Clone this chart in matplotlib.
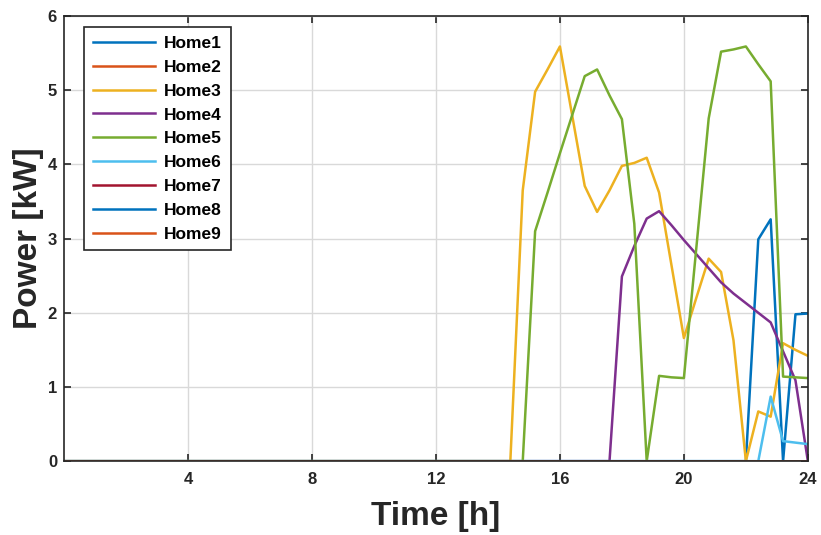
import numpy as np
import matplotlib.pyplot as plt

plt.rcParams['font.family'] = ['Liberation Sans', 'DejaVu Sans']
plt.rcParams['font.weight'] = 'bold'

# time axis, 0.4 h steps
t = np.round(np.arange(0, 61) * 0.4, 2)

labels = ['Home1', 'Home2', 'Home3', 'Home4', 'Home5',
          'Home6', 'Home7', 'Home8', 'Home9']
colors = ['#0072BD', '#D95319', '#EDB120', '#7E2F8E', '#77AC30',
          '#4DBEEE', '#A2142F', '#0072BD', '#D95319']

# values from 14.4 h to 24.0 h (25 samples), zero before
home3_tail = [0, 3.65, 4.98, 5.28, 5.59, 4.65, 3.71, 3.36, 3.65, 3.98,
              4.02, 4.09, 3.62, 2.64, 1.66, 2.2, 2.73, 2.55, 1.63, 0,
              0.67, 0.6, 1.59, 1.5, 1.42]
home4_tail = [0, 0, 0, 0, 0, 0, 0, 0, 0, 2.49,
              2.9, 3.27, 3.37, 3.18, 2.98, 2.79, 2.6, 2.41, 2.26, 2.13,
              2.0, 1.87, 1.48, 1.09, 0]
home5_tail = [0, 0, 3.1, 3.62, 4.15, 4.67, 5.19, 5.28, 4.93, 4.61,
              3.2, 0, 1.15, 1.13, 1.12, 2.87, 4.62, 5.52, 5.55, 5.59,
              5.35, 5.12, 1.14, 1.13, 1.12]
home1_tail = [0, 0, 0, 0, 0, 0, 0, 0, 0, 0,
              0, 0, 0, 0, 0, 0, 0, 0, 0, 0,
              2.99, 3.26, 0, 1.98, 1.99]
home6_tail = [0, 0, 0, 0, 0, 0, 0, 0, 0, 0,
              0, 0, 0, 0, 0, 0, 0, 0, 0, 0,
              0, 0.87, 0.27, 0.25, 0.23]

n_lead = 36  # samples from 0 to 14.0 h


def full(tail):
    return np.concatenate([np.zeros(n_lead), tail])


zeros = np.zeros(len(t))
series = [full(home1_tail), zeros, full(home3_tail), full(home4_tail),
          full(home5_tail), full(home6_tail), zeros, zeros, zeros]

fig = plt.figure(figsize=(8.21, 5.35), dpi=100)
ax = fig.add_axes([0.078, 0.138, 0.906, 0.832])

for y, lab, c in zip(series, labels, colors):
    ax.plot(t, y, color=c, lw=1.8, label=lab)

ax.set_xlim(0, 24)
ax.set_ylim(0, 6)
ax.set_xticks([4, 8, 12, 16, 20, 24])
ax.set_yticks([0, 1, 2, 3, 4, 5, 6])
ax.grid(True, color='#d9d9d9', lw=1)
ax.set_axisbelow(True)
ax.tick_params(direction='in', length=5, width=1.2, colors='#262626',
               labelsize=12, top=True, right=True)
ax.tick_params(axis='x', pad=8)
ax.tick_params(axis='y', pad=5)
for lbl in ax.get_xticklabels() + ax.get_yticklabels():
    lbl.set_fontweight('bold')
for s in ax.spines.values():
    s.set_color('#262626')
    s.set_linewidth(1.2)

ax.set_xlabel('Time [h]', fontsize=24, fontweight='bold', color='#262626',
              labelpad=10)
ax.set_ylabel('Power [kW]', fontsize=24, fontweight='bold', color='#262626',
              labelpad=3)

leg = ax.legend(loc='upper left', bbox_to_anchor=(0.027, 0.975), fancybox=False,
                edgecolor='#262626', framealpha=1,
                handlelength=3.6, handletextpad=0.5, labelspacing=0.5,
                borderaxespad=0.0, borderpad=0.5,
                prop={'weight': 'bold', 'size': 12.5})
leg.get_frame().set_linewidth(1.2)

fig.savefig('out.png', dpi=100)
